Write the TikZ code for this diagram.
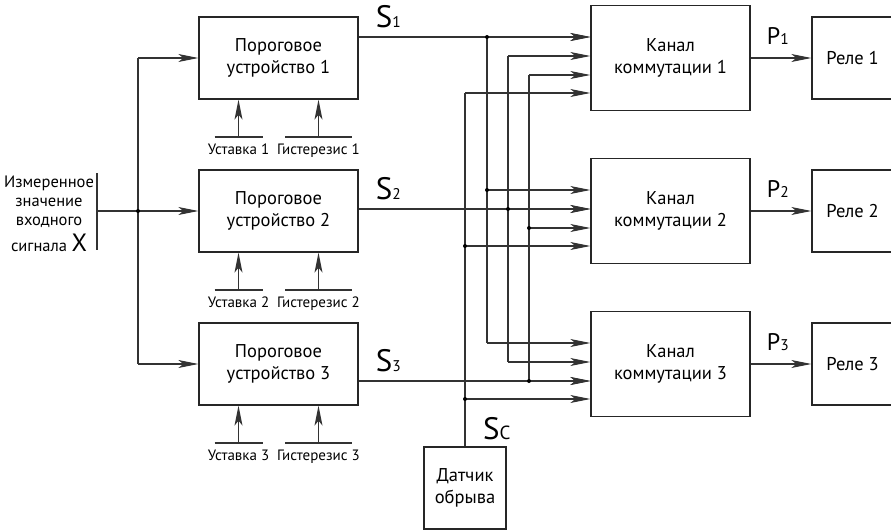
\documentclass[tikz,border=0pt]{standalone}
\usepackage{fontspec}
\setmainfont{PT Sans}
\usetikzlibrary{arrows.meta,positioning,calc}

\tikzset{
  blk/.style={draw=black!85, line width=1.3pt, minimum width=159pt, align=center,
    inner sep=0pt, font=\fontsize{18.5}{22}\selectfont},
  ln/.style={draw=black!80, line width=1.1pt},
  arr/.style={-{Stealth[length=20pt,width=8pt,inset=5pt]}},
  lbl/.style={inner sep=0pt, font=\fontsize{15}{16}\selectfont},
  sigS/.style={inner sep=0pt, font=\fontsize{31}{31}\selectfont},
  sigP/.style={inner sep=0pt, font=\fontsize{24}{24}\selectfont},
  dot/.style={circle, fill=black, inner sep=0pt, minimum size=4pt}
}
\newcommand{\idx}[1]{{\fontsize{15.5}{15.5}\selectfont#1}}

\begin{document}
\begin{tikzpicture}[x=1pt,y=-1pt]
\useasboundingbox (0,0) rectangle (891,531);

% input
\node[inner sep=0pt, align=center, font=\fontsize{16.5}{19}\selectfont] (meas) at (49,214)
  {Измеренное\\значение\\входного\\[6pt]сигнала {\fontsize{25}{25}\selectfont X}};
\coordinate (bartop) at (97,173);
\coordinate (barbot) at (97,250);
\coordinate (inp) at (97,211);
\draw[ln] (bartop) -- (barbot);

% stages
\foreach \k/\yy in {1/58,2/211,3/364}{
  \node[blk, minimum height=82pt] (thr\k) at (278.5,\yy) {Пороговое\\устройство \k};
  \node[blk, minimum height=105pt] (ch\k) at (670.5,\yy) {Канал\\коммутации \k};
  \node[blk, minimum width=81pt, minimum height=82pt] (rel\k) at (852.5,\yy) {Реле \k};
  \draw[ln,arr] (ch\k) -- (rel\k);
  \node[sigP, anchor=base west] (p\k) at ([xshift=16pt,yshift=14pt]ch\k.east) {P\idx{\k}};
  % settings
  \coordinate (us\k) at (238.5,{\yy+79});
  \coordinate (hs\k) at (318.5,{\yy+79});
  \draw[ln] ([xshift=-24pt]us\k) -- ([xshift=24pt]us\k);
  \draw[ln] ([xshift=-33.5pt]hs\k) -- ([xshift=33.5pt]hs\k);
  \draw[ln,arr] (us\k) -- (us\k |- thr\k.south);
  \draw[ln,arr] (hs\k) -- (hs\k |- thr\k.south);
  \node[lbl, anchor=base] (ust\k) at ([yshift=-17pt]us\k) {Уставка \k};
  \node[lbl, anchor=base] (hys\k) at ([yshift=-17pt]hs\k) {Гистерезис \k};
  % inputs of the channel
  \foreach \j/\o in {1/-21,2/-2,3/17,4/35}
    \coordinate (in\k\j) at ($(ch\k.west)+(0,\o)$);
}

% input bus
\coordinate (split) at (138,211);
\draw[ln,arr] (inp) -- (thr2);
\draw[ln] (split |- thr1.west) -- (split |- thr3.west);
\draw[ln,arr] (split |- thr1.west) -- (thr1);
\draw[ln,arr] (split |- thr3.west) -- (thr3);
\node[dot] at (split) {};

% break sensor
\node[blk, minimum width=82pt, minimum height=82pt] (sens) at (465,488) {Датчик\\обрыва};
\node[sigS, anchor=base west] (sc) at ([xshift=18pt,yshift=7pt]sens.north)
  {S{\fontsize{19}{19}\selectfont C}};

% signal buses
\coordinate (bus1) at (487,0);
\coordinate (bus2) at (508,0);
\coordinate (bus3) at (529,0);
\coordinate (bus4) at (465,0);
\foreach \j in {1,2,3}{
  \coordinate (s\j) at (thr\j.east |- in\j\j);
  \draw[ln,arr] (s\j) -- (in\j\j);
  \node[sigS, anchor=base west] (sl\j) at ([xshift=17pt,yshift=10pt]s\j) {S\idx{\j}};
  \draw[ln] (in1\j -| bus\j) -- (in3\j -| bus\j);
  \foreach \k in {1,2,3}
    \draw[ln,arr] (in\k\j -| bus\j) -- (in\k\j);
}
\draw[ln] (sens) -- (in14 -| bus4);
\foreach \k in {1,2,3}
  \draw[ln,arr] (in\k4 -| bus4) -- (in\k4);

% junctions
\foreach \p in {in11 -| bus1, in21 -| bus1, in22 -| bus2, in23 -| bus3,
                in33 -| bus3, in24 -| bus4, in34 -| bus4}
  \node[dot] at (\p) {};
\end{tikzpicture}
\end{document}
